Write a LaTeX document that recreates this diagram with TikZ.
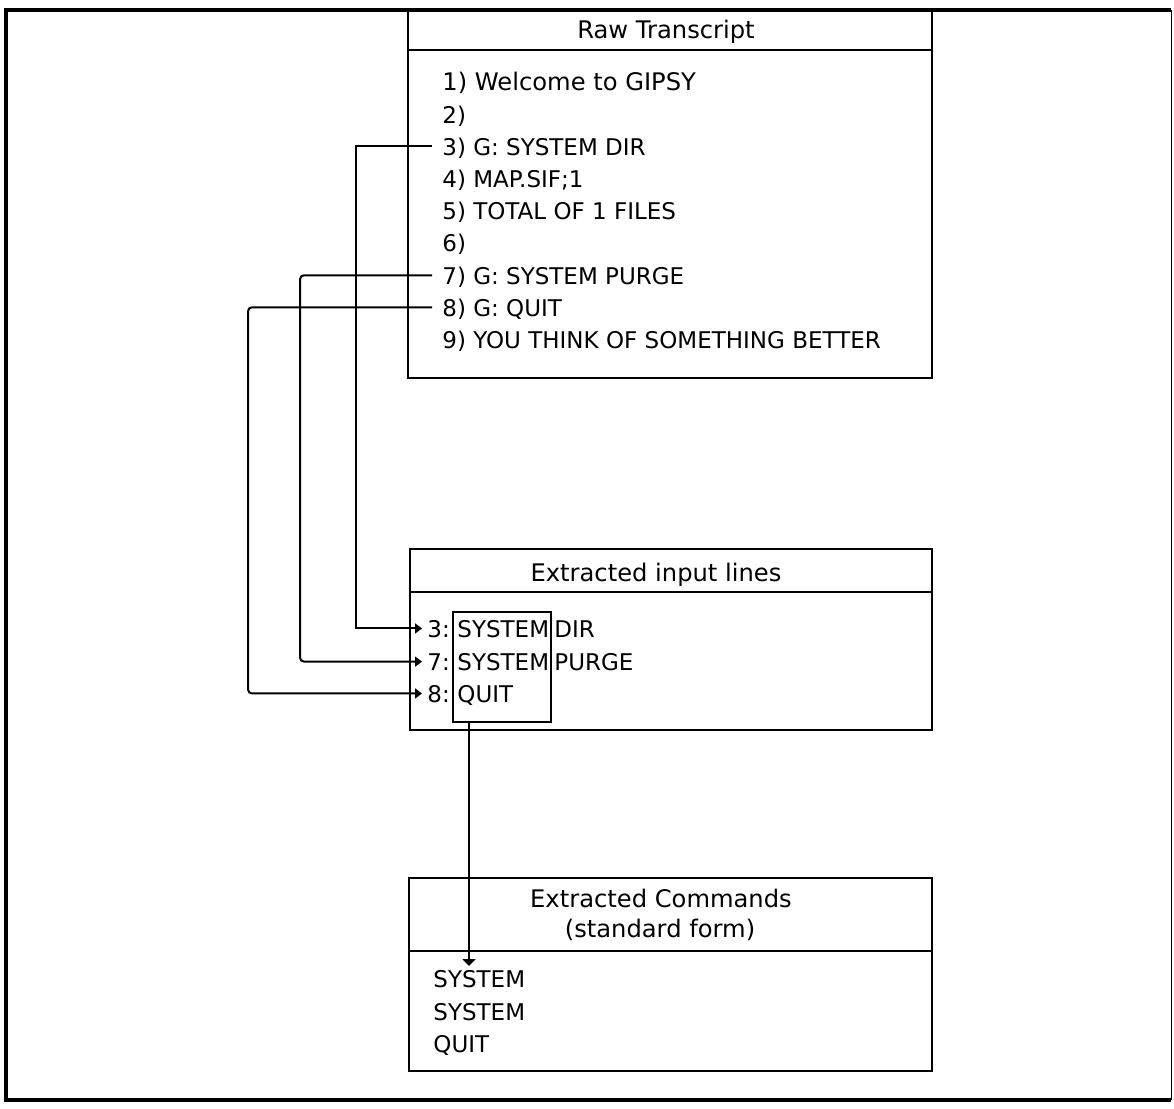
\documentclass[tikz,border=0pt]{standalone}
\usepackage{fontspec}
\setmainfont{DejaVu Sans}
\usetikzlibrary{arrows.meta}
\newcommand\mybodyfont{\fontsize{11.5}{13}\selectfont}
\newcommand\mytitlefont{\fontsize{12.1}{14}\selectfont}
\begin{document}
\begin{tikzpicture}[x=0.5pt,y=-0.5pt,
  box/.style={draw, line width=1pt, inner sep=0pt},
  txt/.style={anchor=base west, inner xsep=0pt, inner ysep=0pt, text depth=0pt, font=\mybodyfont},
  rawline/.style={txt, inner xsep=5pt},
  numlab/.style={txt, inner xsep=2.5pt},
  ttl/.style={anchor=base, inner sep=0pt, font=\mytitlefont},
  conn/.style={line width=1pt},
  arr/.style={conn, -{Triangle[length=3.5pt,width=5pt]}},
  downarr/.style={conn, -{Triangle[length=3.5pt,width=6.5pt]}},
  sepline/.style={line width=1pt}
]
\path[use as bounding box] (0,0) rectangle (1174,1109);
% outer frame
\draw[line width=1.6pt] (1171,10) -- (6,10) -- (6,1100) -- (1171,1100);
\draw[line width=0.4pt] (1171,10) -- (1171,1100);

% ---------- Raw Transcript ----------
\node[box, minimum width=262pt, minimum height=184.5pt] (raw) at (670,193.5) {};
\coordinate (rawsep) at (0,50);
\draw[sepline] (raw.west |- rawsep) -- (raw.east |- rawsep);
\node[ttl] (rawt) at (666,38) {Raw Transcript};
\node[rawline, font=\mytitlefont] (l1) at (432,90) {1) Welcome to GIPSY};
\node[rawline] (l2) at (432,123) {2)};
\node[rawline] (l3) at (432,155) {3) G: SYSTEM DIR};
\node[rawline] (l4) at (432,187) {4) MAP.SIF;1};
\node[rawline] (l5) at (432,219) {5) TOTAL OF 1 FILES};
\node[rawline] (l6) at (432,251) {6)};
\node[rawline] (l7) at (432,284) {7) G: SYSTEM PURGE};
\node[rawline] (l8) at (432,316) {8) G: QUIT};
\node[rawline] (l9) at (432,348) {9) YOU THINK OF SOMETHING BETTER};

% ---------- Extracted input lines ----------
\node[box, minimum width=261pt, minimum height=90.5pt] (ext) at (671,639.5) {};
\coordinate (extsep) at (0,592);
\draw[sepline] (ext.west |- extsep) -- (ext.east |- extsep);
\node[ttl] (extt) at (656,581) {Extracted input lines};
\node[box, minimum width=49pt, minimum height=55pt] (ib) at (502,667) {};
\node[numlab] (e3) at (422,637) {3:};
\node[txt] (s3) at (457,637) {SYSTEM};
\node[txt] (d3) at (554,637) {DIR};
\node[numlab] (e7) at (422,670) {7:};
\node[txt] (s7) at (457,670) {SYSTEM};
\node[txt] (d7) at (554,670) {PURGE};
\node[numlab] (e8) at (422,702) {8:};
\node[txt] (s8) at (457,702) {QUIT};

% ---------- Extracted Commands ----------
\node[box, minimum width=261.5pt, minimum height=96.5pt] (cmd) at (670.5,974.5) {};
\coordinate (cmdsep) at (0,951);
\draw[sepline] (cmd.west |- cmdsep) -- (cmd.east |- cmdsep);
\node[ttl] (cmdt1) at (661,907) {Extracted Commands};
\node[ttl] (cmdt2) at (660,937) {(standard form)};
\node[txt] (c1) at (433,987) {SYSTEM};
\node[txt] (c2) at (433,1020) {SYSTEM};
\node[txt] (c3) at (433,1052) {QUIT};

% ---------- connectors ----------
\coordinate (v3) at (356,0);
\coordinate (v7) at (300,0);
\coordinate (v8) at (248,0);
\coordinate (vd) at (469,0);
\coordinate (tip) at (469,966);
\draw[arr] (l3.west) -- (l3.west -| v3) |- (e3.west);
\draw[arr, rounded corners=2pt] (l7.west) -- (l7.west -| v7) |- (e7.west);
\draw[arr, rounded corners=2pt] (l8.west) -- (l8.west -| v8) |- (e8.west);
\draw[downarr] (ib.south -| vd) -- (tip);
\end{tikzpicture}
\end{document}
